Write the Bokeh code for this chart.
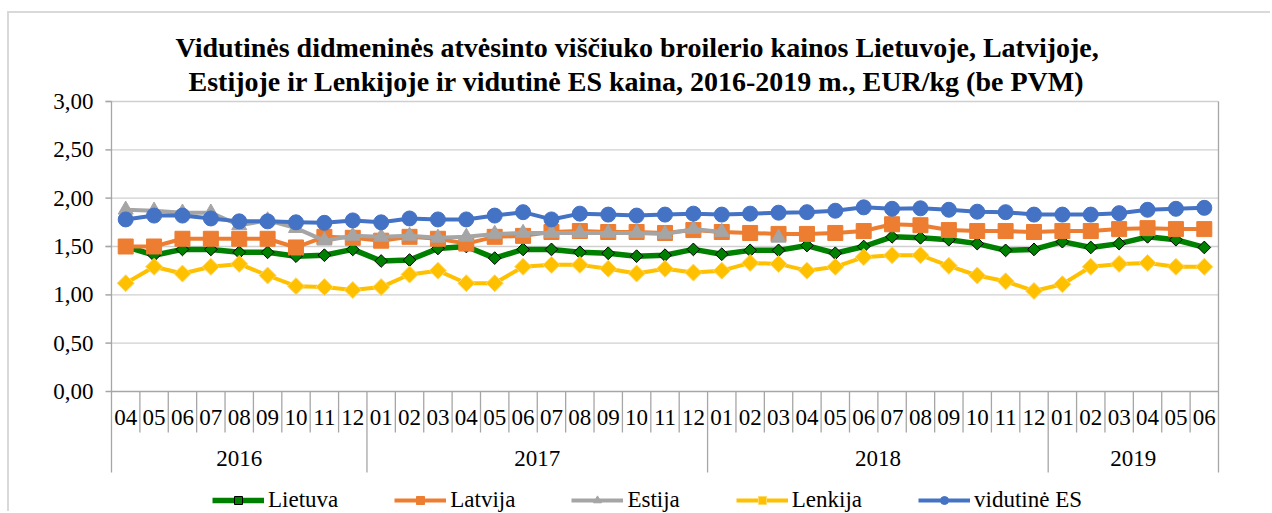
import math
from bokeh.plotting import figure
from bokeh.models import Range1d, LinearAxis, FixedTicker, CustomJSTickFormatter, Title, Legend, LegendItem
from bokeh.core.properties import value
from bokeh.embed import file_html
from bokeh.resources import INLINE

NaN = float("nan")

# ---------------- data ----------------
years = ["2016", "2017", "2018", "2019"]
months_2016 = ["04", "05", "06", "07", "08", "09", "10", "11", "12"]
months_2017 = ["01", "02", "03", "04", "05", "06", "07", "08", "09", "10", "11", "12"]
months_2018 = ["01", "02", "03", "04", "05", "06", "07", "08", "09", "10", "11", "12"]
months_2019 = ["01", "02", "03", "04", "05", "06"]
months_by_year = [months_2016, months_2017, months_2018, months_2019]

lietuva = [1.50, 1.41, 1.47, 1.47, 1.44, 1.44, 1.40, 1.41, 1.47,
           1.35, 1.36, 1.48, 1.50, 1.38, 1.47, 1.47, 1.44, 1.43, 1.40, 1.41, 1.47,
           1.42, 1.46, 1.46, 1.51, 1.43, 1.50, 1.60, 1.59, 1.57, 1.53, 1.46, 1.47,
           1.55, 1.49, 1.53, 1.60, 1.57, 1.49]
latvija = [1.50, 1.50, 1.58, 1.58, 1.58, 1.58, 1.49, 1.60, 1.59,
           1.56, 1.60, 1.58, 1.53, 1.60, 1.61, 1.65, 1.66, 1.65, 1.65, 1.64, 1.67,
           1.65, 1.64, 1.63, 1.63, 1.64, 1.66, 1.73, 1.72, 1.67, 1.66, 1.66, 1.65,
           1.66, 1.66, 1.68, 1.69, 1.68, 1.68]
estija = [1.88, 1.87, 1.85, 1.85, 1.72, 1.77, 1.69, 1.56, 1.61,
          1.60, 1.61, 1.59, 1.60, 1.63, 1.64, 1.64, 1.64, 1.64, 1.64, 1.63, 1.68,
          1.65, NaN, 1.59, NaN, NaN, NaN, NaN, NaN, NaN, NaN, NaN, NaN,
          NaN, NaN, NaN, NaN, NaN, NaN]
lenkija = [1.12, 1.29, 1.22, 1.29, 1.32, 1.20, 1.09, 1.08, 1.05,
           1.08, 1.21, 1.25, 1.12, 1.12, 1.29, 1.31, 1.31, 1.27, 1.22, 1.27, 1.23,
           1.25, 1.33, 1.32, 1.25, 1.29, 1.39, 1.41, 1.41, 1.30, 1.20, 1.14, 1.04,
           1.11, 1.29, 1.32, 1.33, 1.29, 1.29]
vidutine_es = [1.78, 1.82, 1.82, 1.79, 1.76, 1.76, 1.75, 1.745, 1.77,
               1.75, 1.79, 1.78, 1.78, 1.82, 1.855, 1.78, 1.84, 1.83, 1.82, 1.83, 1.84,
               1.83, 1.84, 1.85, 1.855, 1.87, 1.905, 1.89, 1.895, 1.88, 1.86, 1.855, 1.83,
               1.83, 1.83, 1.845, 1.88, 1.89, 1.90]
y_ticks = [0.0, 0.5, 1.0, 1.5, 2.0, 2.5, 3.0]

title_line1 = "Vidutinės didmeninės atvėsinto viščiuko broilerio kainos Lietuvoje, Latvijoje,"
title_line2 = "Estijoje ir Lenkijoje ir vidutinė ES kaina, 2016-2019 m., EUR/kg (be PVM)"

# ---------------- layout constants (page pixels) ----------------
FONT = "Liberation Serif"
ORIGIN_X, ORIGIN_Y = 9, 13          # canvas origin on page (margin + border)
W, H = 1263, 500
PLOT_L, PLOT_R = 111, 1218          # x of first / last category boundary
Y_TOP_PX, Y_ZERO_PX = 101, 391      # y of 3.00 and 0.00
PAD_X, PAD_TOP = 8, 4
AXIS_COLOR = "#a6a6a6"
GRID_COLOR = "#d0d0d0"

months = [m for ms in months_by_year for m in ms]
n = len(months)
ppx = (PLOT_R - PLOT_L) / n
ppy = (Y_ZERO_PX - Y_TOP_PX) / y_ticks[-1]

frame_left = PLOT_L - PAD_X - ORIGIN_X
frame_right = PLOT_R + PAD_X - ORIGIN_X
frame_top = Y_TOP_PX - PAD_TOP - ORIGIN_Y

x_range = Range1d(-PAD_X / ppx, n + PAD_X / ppx)
y_range = Range1d(-(ORIGIN_Y + H - Y_ZERO_PX) / ppy, y_ticks[-1] + PAD_TOP / ppy)

p = figure(width=W, height=H, x_range=x_range, y_range=y_range,
           x_axis_type=None, y_axis_type=None,
           output_backend="svg", toolbar_location=None,
           min_border_left=frame_left, min_border_right=W - frame_right,
           min_border_top=frame_top, min_border_bottom=0,
           outline_line_color=None, background_fill_color="white", border_fill_color="white")
p.styles = {"border-left": "2px solid #d9d9d9", "border-top": "2px solid #d9d9d9",
            "margin-left": "7px", "margin-top": "11px"}

# titles (second line added first so it sits next to the plot)
p.add_layout(Title(text=title_line2, align="left", offset=85, standoff=1, text_font=FONT,
                   text_font_size="28px", text_font_style="bold", text_color="black"), "above")
p.add_layout(Title(text=title_line1, align="left", offset=72, standoff=2, text_font=FONT,
                   text_font_size="28px", text_font_style="bold", text_color="black"), "above")

# y axis (labels only) + gridlines/ticks
yaxis = LinearAxis(ticker=FixedTicker(ticks=y_ticks),
                   formatter=CustomJSTickFormatter(code="return tick.toFixed(2).replace('.', ',');"),
                   axis_line_color=None, major_tick_line_color=None, minor_tick_line_color=None,
                   major_tick_out=0, major_tick_in=0, major_label_standoff=10,
                   major_label_text_font=FONT, major_label_text_font_size="23px",
                   major_label_text_color="black")
p.add_layout(yaxis, "left")

tick_len = 6 / ppx
grid_ticks = [t for t in y_ticks if t > 0]
p.segment(x0=[-tick_len] * len(grid_ticks), x1=[n] * len(grid_ticks), y0=grid_ticks, y1=grid_ticks,
          line_color=GRID_COLOR, line_width=1.3)
p.segment(x0=[-tick_len] * len(grid_ticks), x1=[0] * len(grid_ticks), y0=grid_ticks, y1=grid_ticks,
          line_color=AXIS_COLOR, line_width=1.3)

# category axis table
month_lbl_y = -26 / ppy
month_sep_y = -41 / ppy
year_lbl_y = -67 / ppy
year_sep_y = -81 / ppy

year_bounds = [0]
for ms in months_by_year:
    year_bounds.append(year_bounds[-1] + len(ms))
month_bounds = [b for b in range(1, n) if b not in year_bounds]
inner_year_bounds = year_bounds[1:-1]

p.segment(x0=[-tick_len], x1=[n], y0=[0], y1=[0], line_color=AXIS_COLOR, line_width=1.3)
p.segment(x0=month_bounds, x1=month_bounds, y0=[0] * len(month_bounds), y1=[month_sep_y] * len(month_bounds),
          line_color=AXIS_COLOR, line_width=1.3)
p.segment(x0=inner_year_bounds, x1=inner_year_bounds, y0=[0] * len(inner_year_bounds),
          y1=[year_sep_y] * len(inner_year_bounds), line_color=AXIS_COLOR, line_width=1.3)
p.segment(x0=[0, n], x1=[0, n], y0=[y_ticks[-1]] * 2, y1=[year_sep_y] * 2,
          line_color=AXIS_COLOR, line_width=1.3)

xs = [i + 0.5 for i in range(n)]
p.text(x=xs, y=[month_lbl_y] * n, text=months, text_font=value(FONT), text_font_size=value("23px"),
       text_align="center", text_baseline="middle", text_color="black")
year_x = [(year_bounds[i] + year_bounds[i + 1]) / 2 for i in range(len(years))]
p.text(x=year_x, y=[year_lbl_y] * len(years), text=years, text_font=value(FONT), text_font_size=value("23px"),
       text_align="center", text_baseline="middle", text_color="black")

# series
items = []

def add_series(label, ys, color, lw, marker, size, angle=0.0, fill=None, outline=None):
    lr = p.line(xs, ys, line_color=color, line_width=lw, line_join="round")
    sr = p.scatter(xs, ys, marker=marker, size=size, angle=angle,
                   fill_color=fill or color, line_color=outline or color, line_width=1)
    items.append(LegendItem(label=label, renderers=[lr, sr]))

add_series("Lietuva", lietuva, "#008000", 5.5, "square", 9, angle=math.pi / 4, fill="#008000", outline="black")
add_series("Latvija", latvija, "#ED7D31", 4, "square", 15)
add_series("Estija", estija, "#A5A5A5", 4, "triangle", 15)
add_series("Lenkija", lenkija, "#FFC000", 4, "square", 12, angle=math.pi / 4, outline="#FFD966")
add_series("vidutinė ES", vidutine_es, "#4472C4", 4, "circle", 15)

legend = Legend(items=items, orientation="horizontal", location=(212 - PLOT_L + PAD_X, 0),
                glyph_width=52, glyph_height=20, label_height=20, label_standoff=4, spacing=56,
                padding=2, margin=0, border_line_color=None, background_fill_alpha=0,
                label_text_font=FONT, label_text_font_size="23px", label_text_color="black")
p.add_layout(legend)

open("out.html", "w").write(file_html(p, INLINE))
